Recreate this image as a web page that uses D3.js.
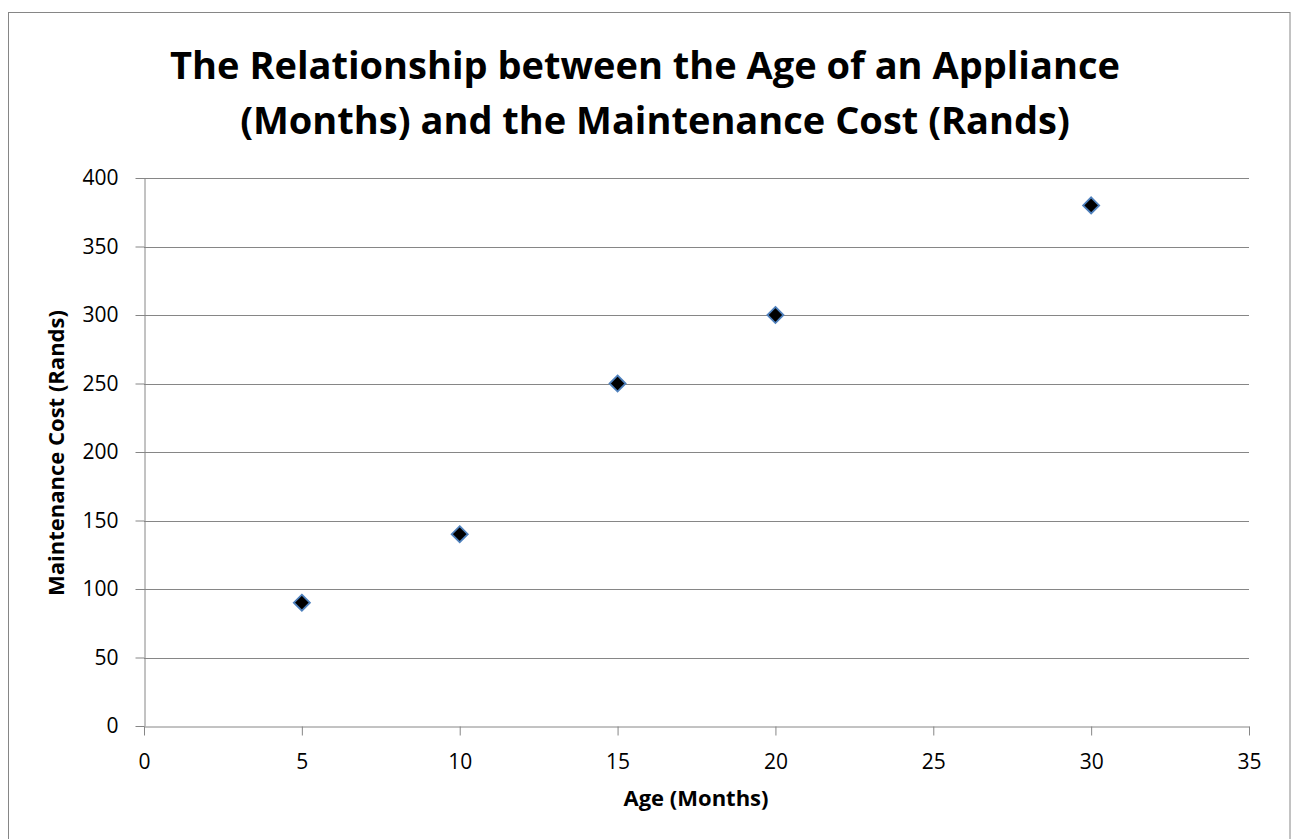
<!DOCTYPE html>
<html><head><meta charset="utf-8">
<script src="https://cdn.jsdelivr.net/npm/d3@7"></script>
<style>body{margin:0;background:#fff}svg{display:block}text{font-family:"Open Sans","Liberation Sans",sans-serif}</style>
</head><body>
<script>
const ages = [5, 10, 15, 20, 30];
const costs = [90, 140, 250, 300, 380];
const xTicks = [0, 5, 10, 15, 20, 25, 30, 35];
const yTicks = [0, 50, 100, 150, 200, 250, 300, 350, 400];
const titleLines = ["The Relationship between the Age of an Appliance", "(Months) and the Maintenance Cost (Rands)"];

const W = 1296, H = 839;
const svg = d3.select("body").append("svg").attr("width", W).attr("height", H);
svg.append("rect").attr("x", 8.5).attr("y", 12.5).attr("width", 1281.5).attr("height", 840)
  .attr("fill", "#fff").attr("stroke", "#868686").attr("stroke-width", 1);

const x = d3.scaleLinear().domain([0, 35]).range([144, 1249]);
const y = d3.scaleLinear().domain([0, 400]).range([726, 178]);

// gridlines
svg.append("g").selectAll("line").data(yTicks.filter(d => d > 0)).join("line")
  .attr("x1", x(0)).attr("x2", x(35)).attr("y1", d => Math.round(y(d)) + 0.5).attr("y2", d => Math.round(y(d)) + 0.5)
  .attr("stroke", "#868686").attr("stroke-width", 1);

const gx = svg.append("g").attr("transform", `translate(0,${Math.round(y(0)) + 0.5})`)
  .call(d3.axisBottom(x).tickValues(xTicks).tickSize(9).tickSizeOuter(0));
gx.selectAll("text").attr("y", 42).attr("dy", null);
const gy = svg.append("g").attr("transform", `translate(${Math.round(x(0)) + 0.5},0)`)
  .call(d3.axisLeft(y).tickValues(yTicks).tickSize(9).tickPadding(17).tickSizeOuter(0));
[gx, gy].forEach(g => {
  g.selectAll("path,line").attr("stroke", "#868686").attr("stroke-width", 1);
  g.selectAll("text").attr("font-size", 21).attr("fill", "#000");
});

// points
const sym = d3.symbol().type(d3.symbolDiamond2).size(165);
svg.append("g").selectAll("path").data(ages.map((a, i) => [a, costs[i]])).join("path")
  .attr("transform", d => `translate(${x(d[0])},${y(d[1])})`)
  .attr("d", sym).attr("fill", "#000").attr("stroke", "#4F81BD").attr("stroke-width", 1.8);

// title
svg.append("g").selectAll("text").data(titleLines).join("text")
  .attr("x", (d, i) => i === 0 ? 645 : 655).attr("y", (d, i) => 79 + i * 55).attr("text-anchor", "middle")
  .attr("font-size", 38).attr("font-weight", "bold").text(d => d);

svg.append("text").attr("x", 696).attr("y", 806).attr("text-anchor", "middle")
  .attr("font-size", 22).attr("font-weight", "bold").text("Age (Months)");
svg.append("text").attr("transform", "translate(64,453) rotate(-90)").attr("text-anchor", "middle")
  .attr("font-size", 22).attr("font-weight", "bold").text("Maintenance Cost (Rands)");
</script>
</body></html>
